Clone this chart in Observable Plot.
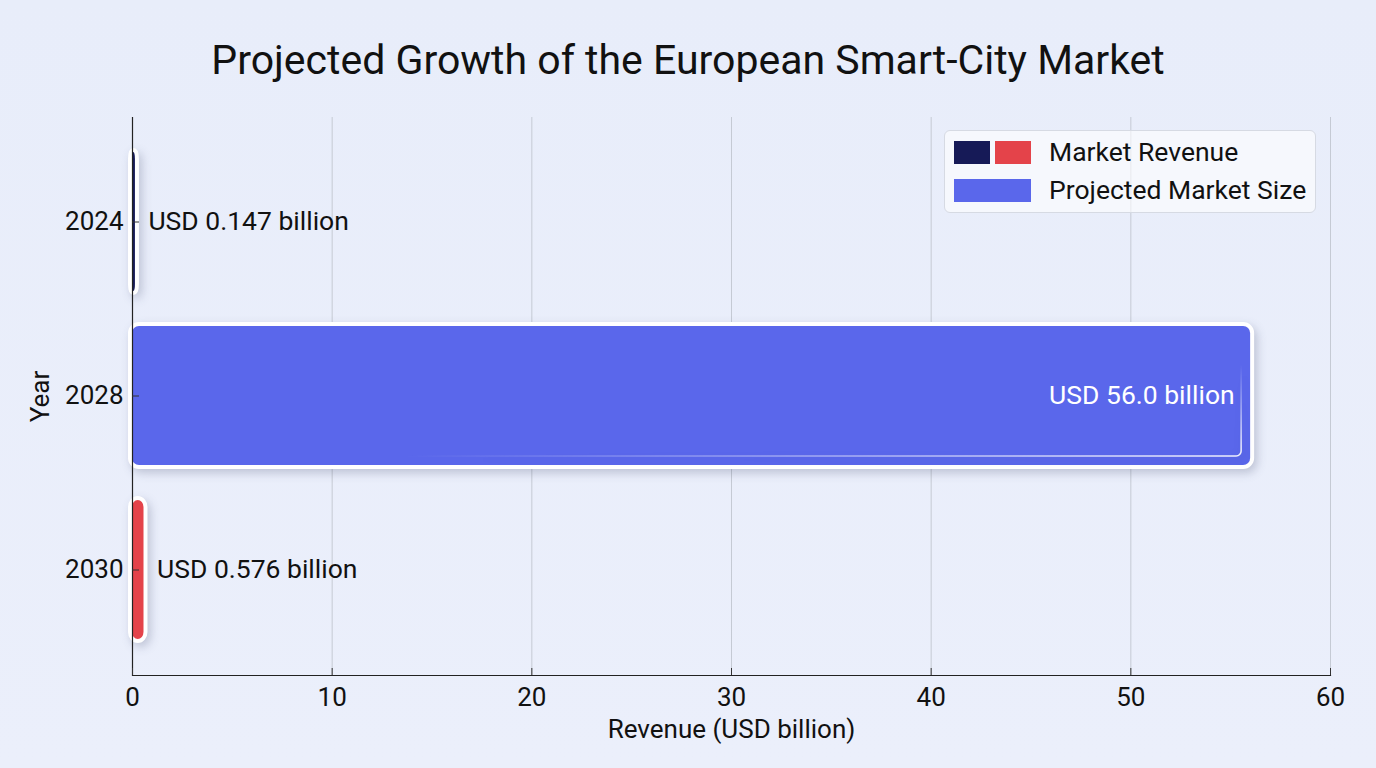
<!DOCTYPE html>
<html>
<head>
<meta charset="utf-8">
<script src="https://cdn.jsdelivr.net/npm/d3@7"></script>
<script src="https://cdn.jsdelivr.net/npm/@observablehq/plot@0.6"></script>
<style>
  html, body { margin: 0; padding: 0; }
  body {
    width: 1376px; height: 768px; overflow: hidden; position: relative;
    background: linear-gradient(180deg, #e8edfa 0%, #ebeffb 100%);
    font-family: Roboto, "Noto Sans", sans-serif; color: #111;
  }
  #title {
    height: 100px; box-sizing: border-box; padding-top: 36px;
    text-align: center; font-size: 41px; line-height: 48px; font-weight: 400; color: #111;
  }
  #chart svg { display: block; overflow: visible; }
  #chart g[aria-label="bar"] { filter: drop-shadow(3px 4px 5px rgba(30, 40, 80, 0.22)); }
  #legend {
    position: absolute; left: 944px; top: 130px; width: 372px; height: 83px; box-sizing: border-box;
    background: rgba(255, 255, 255, 0.6); border: 1px solid #d6dae3; border-radius: 6px;
  }
  .row { position: absolute; left: 9px; height: 24px; display: flex; align-items: center; }
  .sw { height: 23px; }
  .lt { position: absolute; left: 104px; font-size: 26.5px; line-height: 24px; white-space: nowrap; }
</style>
</head>
<body>
<div id="title">Projected Growth of the European Smart-City Market</div>
<div id="chart"></div>
<div id="legend"></div>
<script>
// Revenue by year
const years = ["2024", "2028", "2030"];
const revenue = [0.147, 56.0, 0.576];
const seriesName = ["Market Revenue", "Projected Market Size", "Market Revenue"];
const valueLabels = ["USD 0.147 billion", "USD 56.0 billion", "USD 0.576 billion"];
const xTicks = [0, 10, 20, 30, 40, 50, 60];

// Colours per year and legend entries
const barColors = ["#161a57", "#5a67eb", "#e4434a"];
const legendItems = [
  {label: "Market Revenue", colors: ["#161a57", "#e4434a"]},
  {label: "Projected Market Size", colors: ["#5a67eb"]}
];

const rows = years.map((year, i) => ({
  year, value: revenue[i], series: seriesName[i], color: barColors[i], label: valueLabels[i]
}));

const x0 = 0, x1 = 60;

const chart = Plot.plot({
  width: 1376,
  height: 668,
  marginTop: 17,
  marginBottom: 93,
  marginLeft: 132,
  marginRight: 46,
  style: {background: "transparent", fontFamily: "Roboto, 'Noto Sans', sans-serif", fontSize: "26px", color: "#111", overflow: "visible"},
  x: {domain: [x0, x1], ticks: xTicks},
  y: {domain: years, padding: 0.2},
  marks: [
    Plot.gridX(xTicks.filter(d => d > 0), {stroke: "#c5cad4", strokeOpacity: 1, strokeWidth: 1}),
    // white border painted beneath the fill so even thin bars keep their colour
    Plot.barX(rows, {y: "year", x: "value", fill: "color", stroke: "white", strokeWidth: 8, paintOrder: "stroke", rx: 7}),
    // soft inner gloss along the right and bottom edges of the wide bar
    Plot.barX(rows.filter(d => d.value > 5), {y: "year", x: "value", fill: "none", stroke: "url(#gloss)", strokeWidth: 1.6, inset: 9, rx: 5}),
    Plot.text(rows.filter(d => d.value <= 50), {y: "year", x: "value", text: "label", textAnchor: "start", dx: 13, fill: "#111", fontSize: 26.5}),
    Plot.text(rows.filter(d => d.value > 50), {y: "year", x: "value", text: "label", textAnchor: "end", dx: -16, fill: "white", fontSize: 26.5}),
    Plot.ruleX([x0], {stroke: "#222", strokeWidth: 1.2}),
    Plot.frame({anchor: "bottom", stroke: "#222", strokeWidth: 1.2}),
    Plot.axisX({ticks: xTicks, tickSize: -7, tickPadding: 19, fontSize: 26, stroke: "#333",
      label: "Revenue (USD billion)", labelAnchor: "center", labelArrow: "none", labelOffset: 62}),
    Plot.axisY({tickSize: -7, tickPadding: 16, fontSize: 26, stroke: "#333",
      label: "Year", labelAnchor: "center", labelArrow: "none", labelOffset: 102})
  ]
});

// gradient used by the gloss stroke
const svgNS = "http://www.w3.org/2000/svg";
const defs = document.createElementNS(svgNS, "defs");
defs.innerHTML = `<linearGradient id="gloss" x1="0" y1="0" x2="1" y2="1">
  <stop offset="0" stop-color="#fff" stop-opacity="0"/>
  <stop offset="0.62" stop-color="#fff" stop-opacity="0"/>
  <stop offset="1" stop-color="#fff" stop-opacity="0.9"/>
</linearGradient>`;
chart.insertBefore(defs, chart.firstChild);
document.getElementById("chart").append(chart);

// legend
const legend = document.getElementById("legend");
legendItems.forEach((item, i) => {
  const row = document.createElement("div");
  row.className = "row";
  row.style.top = (9 + i * 38) + "px";
  const w = item.colors.length === 1 ? 77 : 36;
  item.colors.forEach((c, j) => {
    const s = document.createElement("div");
    s.className = "sw";
    s.style.width = w + "px";
    s.style.background = c;
    if (j > 0) s.style.marginLeft = "5px";
    row.append(s);
  });
  legend.append(row);
  const t = document.createElement("div");
  t.className = "lt";
  t.style.top = (9 + i * 38) + "px";
  t.textContent = item.label;
  legend.append(t);
});
</script>
</body>
</html>
